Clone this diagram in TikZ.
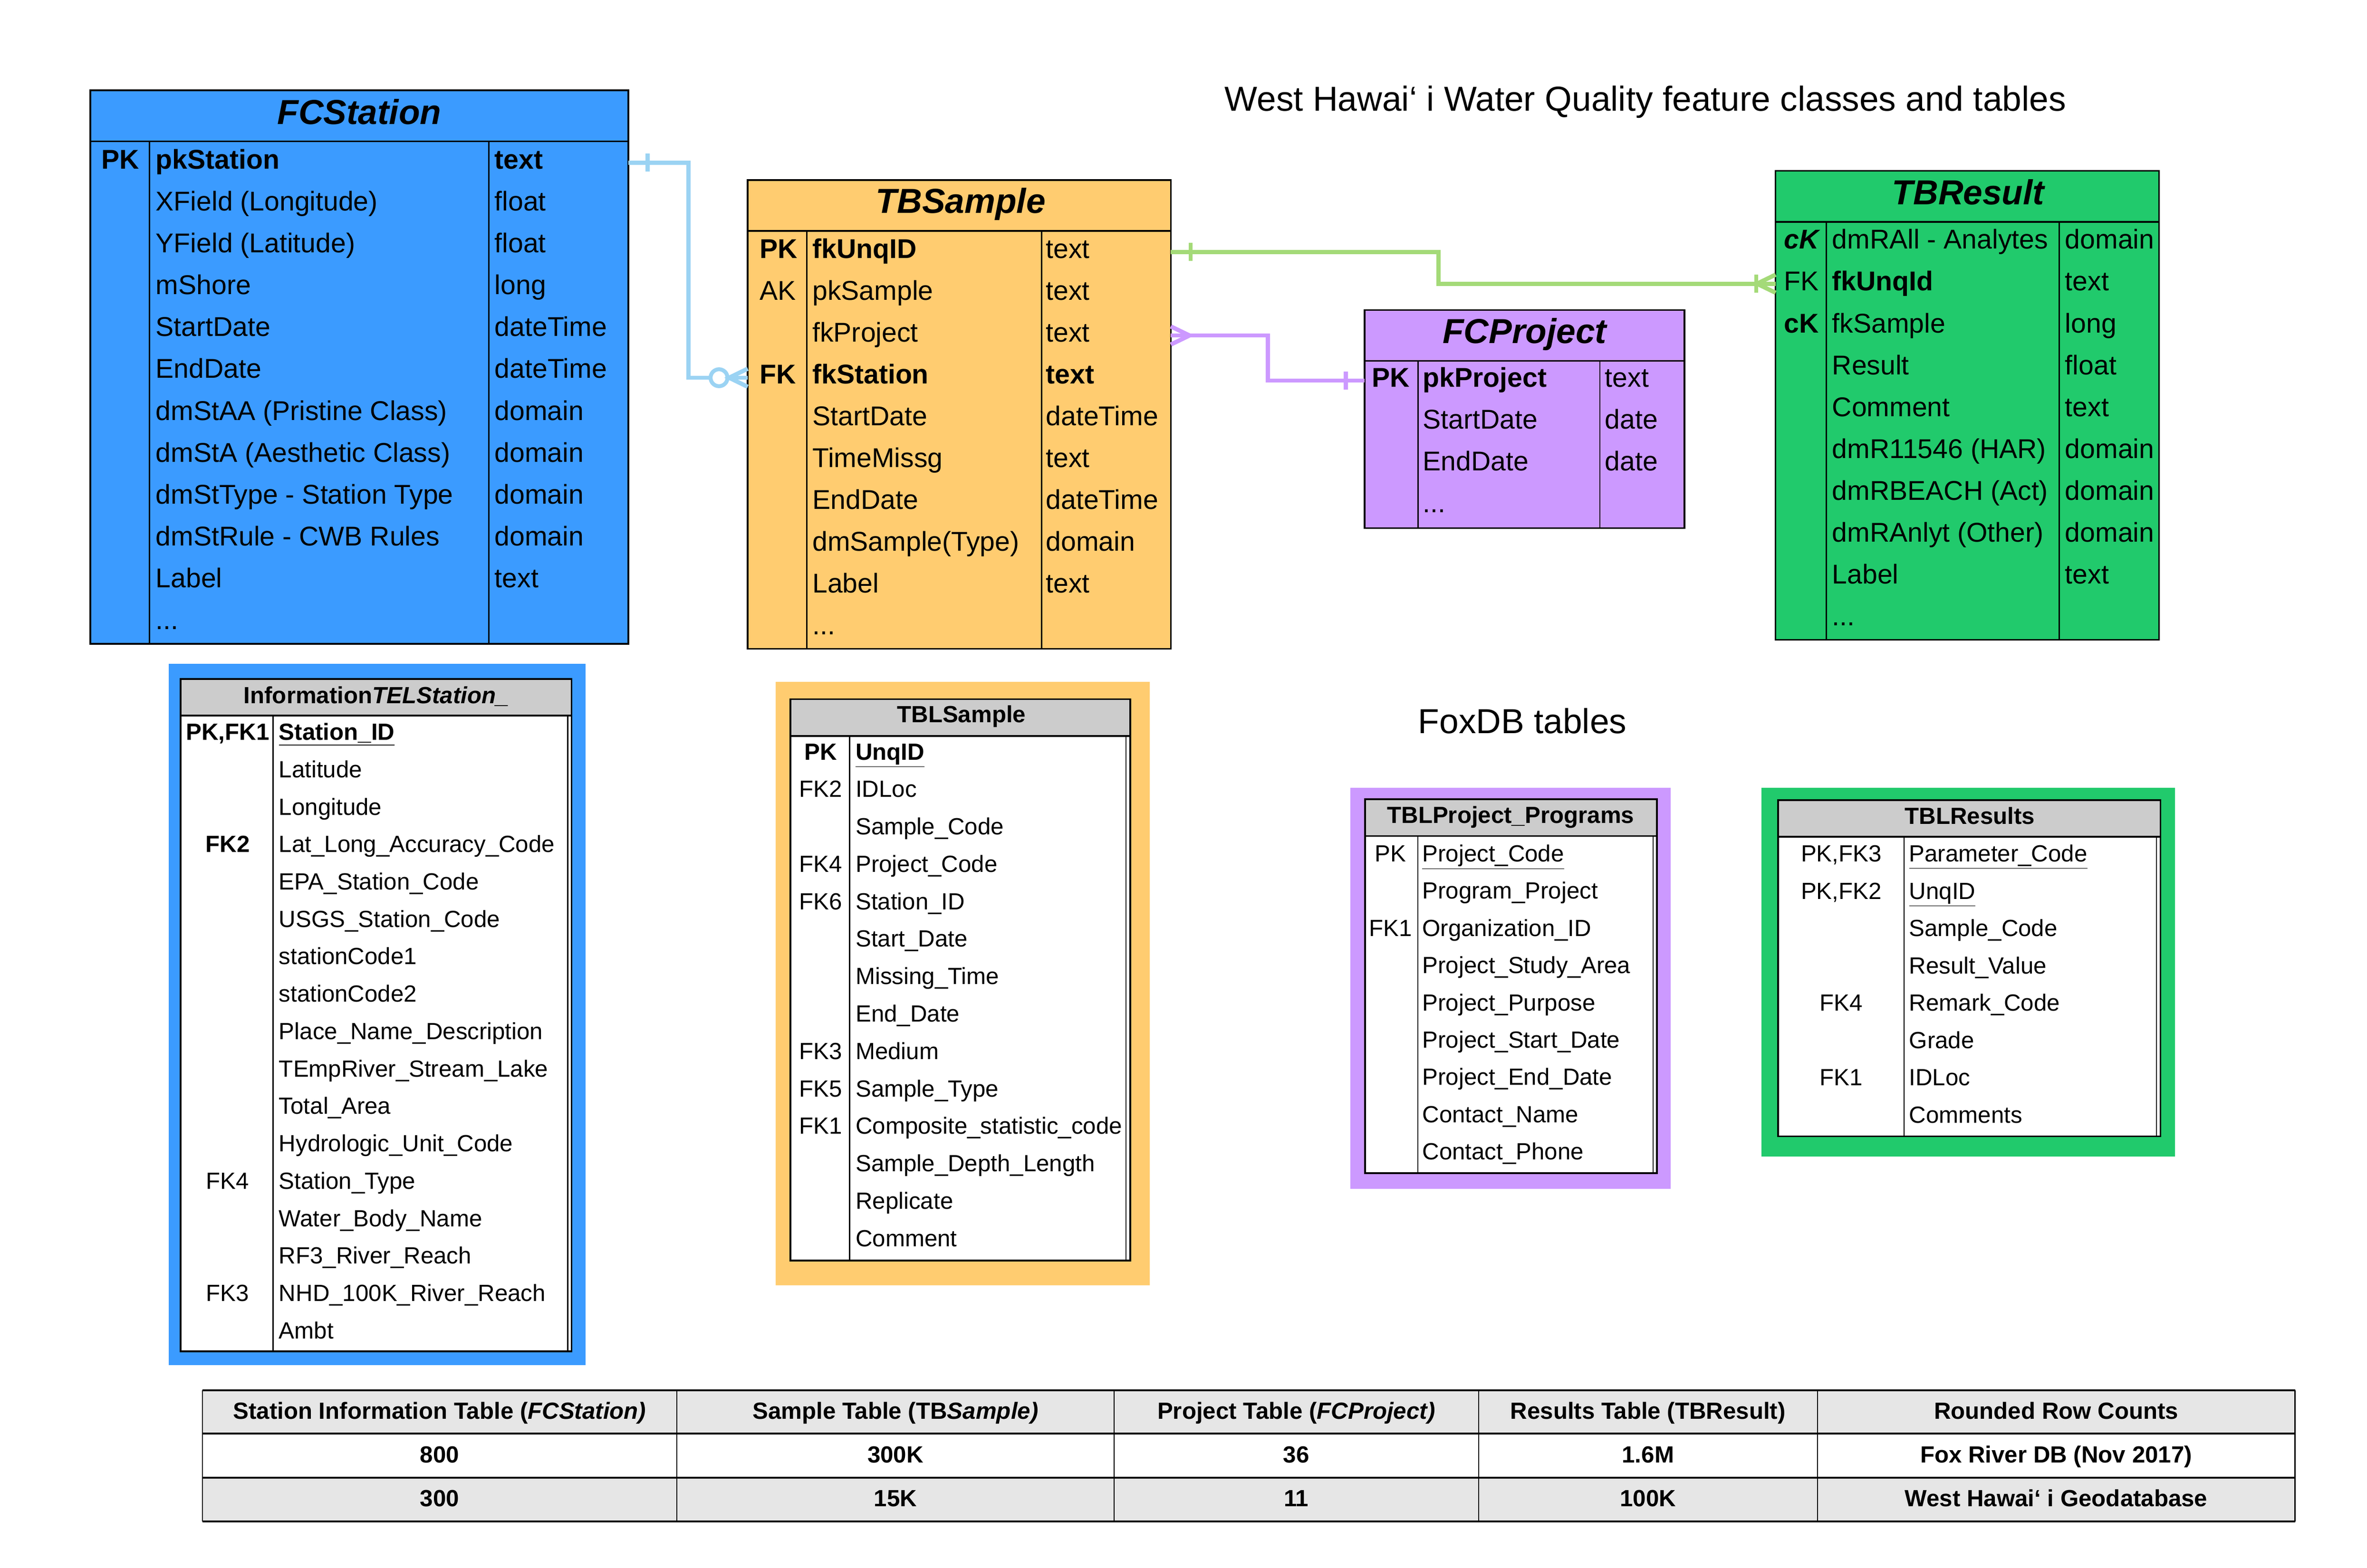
\documentclass[tikz,border=0pt]{standalone}
\usepackage{fontspec}
\setmainfont{Liberation Sans}
\definecolor{cBlue}{RGB}{59,155,255}
\definecolor{cOrange}{RGB}{255,204,112}
\definecolor{cPurple}{RGB}{204,153,255}
\definecolor{cGreen}{RGB}{33,202,108}
\definecolor{lnBlue}{RGB}{155,211,243}
\definecolor{lnGreen}{RGB}{164,218,120}
\definecolor{lnPurple}{RGB}{204,153,255}
\definecolor{hdGray}{RGB}{204,204,204}
\definecolor{tbGray}{RGB}{230,230,230}
\begin{document}
\begin{tikzpicture}[x=1pt,y=-1pt,
  ent/.style={draw=black, line width=1.1pt, anchor=north west, inner sep=0pt, outer sep=0pt},
  frame/.style={anchor=north west, inner sep=0pt, outer sep=0pt},
  tl/.style={line width=1.1pt},
  dl/.style={line width=0.9pt},
  ltl/.style={line width=1.2pt},
  thin/.style={line width=0.7pt},
  tx/.style={anchor=base west, inner sep=0pt, font=\fontsize{18}{20}\selectfont},
  ttl/.style={anchor=base, inner sep=0pt, font=\fontsize{23}{26}\selectfont\bfseries\itshape},
  lt/.style={anchor=base west, inner sep=0pt, font=\fontsize{15.5}{18}\selectfont},
  lk/.style={anchor=base, inner sep=0pt, font=\fontsize{15.5}{18}\selectfont},
  lttl/.style={anchor=base, inner sep=0pt, font=\fontsize{15.5}{18}\selectfont\bfseries},
  bt/.style={anchor=base, inner sep=0pt, font=\fontsize{15.5}{18}\selectfont\bfseries},
  big/.style={anchor=base, inner sep=0pt, font=\fontsize{23}{26}\selectfont},
  con/.style={line width=2.8pt},
]
\useasboundingbox (0,0) rectangle (1568,1039);

% ---------------- FCStation ----------------
\node[ent, fill=cBlue, minimum width=356.5pt, minimum height=366.9pt] (fcstation) at (59.8,59.8) {};
\draw[tl] (59.8,93.7) -- (416.3,93.7);
\draw[dl] (99,93.7) -- (99,426.7);
\draw[dl] (323.7,93.7) -- (323.7,426.7);
\node[ttl] (fcs-title) at (238,82.2) {FCStation};
\foreach \ky/\nm/\ty [count=\ri from 0] in {
  \textbf{PK}/\textbf{pkStation}/\textbf{text},
  /XField (Longitude)/float,
  /YField (Latitude)/float,
  /mShore/long,
  /StartDate/dateTime,
  /EndDate/dateTime,
  /dmStAA (Pristine Class)/domain,
  /dmStA (Aesthetic Class)/domain,
  /dmStType - Station Type/domain,
  /dmStRule - CWB Rules/domain,
  /Label/text}{
  \node[tx] (fcs-k\ri) at (66.9,{105.5+\ri*27.74+6.4}) {\ky};
  \node[tx] (fcs-n\ri) at (103,{105.5+\ri*27.74+6.4}) {\nm};
  \node[tx] (fcs-t\ri) at (327.5,{105.5+\ri*27.74+6.4}) {\ty};
}
\node[tx] (fcs-more) at (103,{105.5+11*27.74+6.4}) {...};

% ---------------- TBSample ----------------
\node[ent, fill=cOrange, minimum width=280.3pt, minimum height=310.7pt] (tbsample) at (495.3,119.3) {};
\draw[tl] (495.3,153) -- (775.6,153);
\draw[dl] (534.6,153) -- (534.6,430);
\draw[dl] (690,153) -- (690,430);
\node[ttl] (tbs-title) at (636.4,141.2) {TBSample};
\foreach \ky/\nm/\ty [count=\ri from 0] in {
  \textbf{PK}/\textbf{fkUnqID}/text,
  AK/pkSample/text,
  /fkProject/text,
  \textbf{FK}/\textbf{fkStation}/\textbf{text},
  /StartDate/dateTime,
  /TimeMissg/text,
  /EndDate/dateTime,
  /dmSample(Type)/domain,
  /Label/text}{
  \node[tx] (tbs-k\ri) at (503,{164.7+\ri*27.7+6.4}) {\ky};
  \node[tx] (tbs-n\ri) at (538,{164.7+\ri*27.7+6.4}) {\nm};
  \node[tx] (tbs-t\ri) at (692.7,{164.7+\ri*27.7+6.4}) {\ty};
}
\node[tx] (tbs-more) at (538,{164.7+9*27.7+6.4}) {...};

% ---------------- FCProject ----------------
\node[ent, fill=cPurple, minimum width=211.9pt, minimum height=144.5pt] (fcproject) at (904,205.5) {};
\draw[tl] (904,239.1) -- (1115.9,239.1);
\draw[dl] (939.5,239.1) -- (939.5,350);
\draw[dl] (1059.8,239.1) -- (1059.8,350);
\node[ttl] (fcp-title) at (1010,227.5) {FCProject};
\foreach \ky/\nm/\ty [count=\ri from 0] in {
  \textbf{PK}/\textbf{pkProject}/text,
  /StartDate/date,
  /EndDate/date}{
  \node[tx] (fcp-k\ri) at (908.7,{250.2+\ri*27.7+6.4}) {\ky};
  \node[tx] (fcp-n\ri) at (942.4,{250.2+\ri*27.7+6.4}) {\nm};
  \node[tx] (fcp-t\ri) at (1063,{250.2+\ri*27.7+6.4}) {\ty};
}
\node[tx] (fcp-more) at (942.4,{250.2+3*27.7+6.4}) {...};

% ---------------- TBResult ----------------
\node[ent, fill=cGreen, minimum width=254.1pt, minimum height=310.8pt] (tbresult) at (1176.2,113.2) {};
\draw[tl] (1176.2,147) -- (1430.3,147);
\draw[dl] (1209.8,147) -- (1209.8,424);
\draw[dl] (1364.2,147) -- (1364.2,424);
\node[ttl] (tbr-title) at (1303.8,135.7) {TBResult};
\foreach \ky/\nm/\ty [count=\ri from 0] in {
  \textbf{\textit{cK}}/dmRAll - Analytes/domain,
  FK/\textbf{fkUnqId}/text,
  \textbf{cK}/fkSample/long,
  /Result/float,
  /Comment/text,
  /dmR11546 (HAR)/domain,
  /dmRBEACH (Act)/domain,
  /dmRAnlyt (Other)/domain,
  /Label/text}{
  \node[tx] (tbr-k\ri) at (1181.6,{158.5+\ri*27.75+6.4}) {\ky};
  \node[tx] (tbr-n\ri) at (1213.5,{158.5+\ri*27.75+6.4}) {\nm};
  \node[tx] (tbr-t\ri) at (1367.8,{158.5+\ri*27.75+6.4}) {\ty};
}
\node[tx] (tbr-more) at (1213.5,{158.5+9*27.75+6.4}) {...};

% ---------------- connectors ----------------
% FCStation -> TBSample (one to zero-or-many)
\coordinate (bS) at ([yshift=-48pt]fcstation.north east);
\coordinate (bE) at ([yshift=-131pt]tbsample.north west);
\draw[con, lnBlue] (bS) -- ++(39.7,0) |- (bE);
\draw[con, lnBlue] ([xshift=12.7pt,yshift=6pt]bS) -- ([xshift=12.7pt,yshift=-6pt]bS);
\draw[lnBlue, line width=2.6pt, fill=white] ([xshift=-19pt]bE) circle[radius=5.6pt];
\draw[con, lnBlue] ([yshift=6pt]bE) -- ([xshift=-12.3pt]bE) -- ([yshift=-6pt]bE);
% TBSample -> TBResult (one to one-or-many)
\coordinate (gS) at ([yshift=-47.7pt]tbsample.north east);
\coordinate (gE) at ([yshift=-74.8pt]tbresult.north west);
\draw[con, lnGreen] (gS) -- ++(177.2,0) |- (gE);
\draw[con, lnGreen] ([xshift=13.1pt,yshift=6pt]gS) -- ([xshift=13.1pt,yshift=-6pt]gS);
\draw[con, lnGreen] ([xshift=-12.8pt,yshift=6pt]gE) -- ([xshift=-12.8pt,yshift=-6pt]gE);
\draw[con, lnGreen] ([yshift=6pt]gE) -- ([xshift=-12.3pt]gE) -- ([yshift=-6pt]gE);
% TBSample -> FCProject (many to one)
\coordinate (pS) at ([yshift=-103pt]tbsample.north east);
\coordinate (pE) at ([yshift=-46.7pt]fcproject.north west);
\draw[con, lnPurple] (pS) -- ++(64.4,0) |- (pE);
\draw[con, lnPurple] ([yshift=6pt]pS) -- ([xshift=12.4pt]pS) -- ([yshift=-6pt]pS);
\draw[con, lnPurple] ([xshift=-12.6pt,yshift=6pt]pE) -- ([xshift=-12.6pt,yshift=-6pt]pE);

% ---------------- titles ----------------
\node[big] (title) at (1090,73.5) {West Hawai‘ i Water Quality feature classes and tables};
\node[big] (foxdb) at (1008.5,486) {FoxDB tables};

% ---------------- InformationTELStation ----------------
\node[frame, fill=cBlue, minimum width=276.2pt, minimum height=464.5pt] (infoframe) at (111.7,440) {};
\node[frame, fill=white, minimum width=259pt, minimum height=445.6pt] (infotel) at (119.6,449.8) {};
\fill[hdGray] (119.6,449.8) rectangle (378.6,474.2);
\draw[ltl] (119.6,449.8) rectangle (378.6,895.4);
\draw[ltl] (119.6,474.2) -- (378.6,474.2);
\draw[dl] (181,474.2) -- (181,895.4);
\draw[thin] (376.1,474.2) -- (376.1,895.4);
\node[lttl] (it-title) at (249.3,466) {Information\textit{TELStation\_}};
\foreach \ky/\nm [count=\ri from 0] in {
  \textbf{PK,FK1}/\textbf{\underline{Station\_ID}},
  /Latitude, /Longitude,
  \textbf{FK2}/Lat\_Long\_Accuracy\_Code,
  /EPA\_Station\_Code, /USGS\_Station\_Code, /stationCode1, /stationCode2,
  /Place\_Name\_Description, /TEmpRiver\_Stream\_Lake, /Total\_Area,
  /Hydrologic\_Unit\_Code, FK4/Station\_Type, /Water\_Body\_Name,
  /RF3\_River\_Reach, FK3/NHD\_100K\_River\_Reach, /Ambt}{
  \node[lk] (it-k\ri) at (150.8,{484.9+\ri*24.79+5.5}) {\ky};
  \node[lt] (it-n\ri) at (184.6,{484.9+\ri*24.79+5.5}) {\nm};
}

% ---------------- TBLSample ----------------
\node[frame, fill=cOrange, minimum width=248pt, minimum height=399.9pt] (tsframe) at (513.7,451.8) {};
\node[frame, fill=white, minimum width=225.1pt, minimum height=372pt] (tblsample) at (523.7,463.3) {};
\fill[hdGray] (523.7,463.3) rectangle (748.8,487.6);
\draw[ltl] (523.7,463.3) rectangle (748.8,835.3);
\draw[ltl] (523.7,487.6) -- (748.8,487.6);
\draw[dl] (562.8,487.6) -- (562.8,835.3);
\draw[thin] (746,487.6) -- (746,835.3);
\node[lttl] (ts-title) at (636.9,478.7) {TBLSample};
\foreach \ky/\nm [count=\ri from 0] in {
  \textbf{PK}/\textbf{\underline{UnqID}},
  FK2/IDLoc, /Sample\_Code, FK4/Project\_Code, FK6/Station\_ID,
  /Start\_Date, /Missing\_Time, /End\_Date, FK3/Medium, FK5/Sample\_Type,
  FK1/Composite\_statistic\_code, /Sample\_Depth\_Length, /Replicate, /Comment}{
  \node[lk] (ts-k\ri) at (543.6,{498+\ri*24.8+5.5}) {\ky};
  \node[lt] (ts-n\ri) at (566.6,{498+\ri*24.8+5.5}) {\nm};
}

% ---------------- TBLProject_Programs ----------------
\node[frame, fill=cPurple, minimum width=212.2pt, minimum height=265.8pt] (tpframe) at (894.4,522.1) {};
\node[frame, fill=white, minimum width=193.3pt, minimum height=247.8pt] (tblproject) at (904.2,529.5) {};
\fill[hdGray] (904.2,529.5) rectangle (1097.5,554);
\draw[ltl] (904.2,529.5) rectangle (1097.5,777.3);
\draw[ltl] (904.2,554) -- (1097.5,554);
\draw[dl] (939.2,554) -- (939.2,777.3);
\draw[thin] (1095,554) -- (1095,777.3);
\node[lttl] (tp-title) at (1000.7,545.6) {TBLProject\_Programs};
\foreach \ky/\nm [count=\ri from 0] in {
  PK/\underline{Project\_Code}, /Program\_Project, FK1/Organization\_ID,
  /Project\_Study\_Area, /Project\_Purpose, /Project\_Start\_Date,
  /Project\_End\_Date, /Contact\_Name, /Contact\_Phone}{
  \node[lk] (tp-k\ri) at (921.2,{565.5+\ri*24.68+5.5}) {\ky};
  \node[lt] (tp-n\ri) at (942,{565.5+\ri*24.68+5.5}) {\nm};
}

% ---------------- TBLResults ----------------
\node[frame, fill=cGreen, minimum width=274pt, minimum height=244.3pt] (trframe) at (1166.9,522.1) {};
\node[frame, fill=white, minimum width=253.4pt, minimum height=222.8pt] (tblresults) at (1177.8,530.2) {};
\fill[hdGray] (1177.8,530.2) rectangle (1431.2,554.4);
\draw[ltl] (1177.8,530.2) rectangle (1431.2,753);
\draw[ltl] (1177.8,554.4) -- (1431.2,554.4);
\draw[dl] (1261.3,554.4) -- (1261.3,753);
\draw[thin] (1428.6,554.4) -- (1428.6,753);
\node[lttl] (tr-title) at (1304.9,546.1) {TBLResults};
\foreach \ky/\nm [count=\ri from 0] in {
  {PK,FK3}/\underline{Parameter\_Code}, {PK,FK2}/\underline{UnqID},
  /Sample\_Code, /Result\_Value, FK4/Remark\_Code, /Grade, FK1/IDLoc, /Comments}{
  \node[lk] (tr-k\ri) at (1219.7,{565.5+\ri*24.74+5.5}) {\ky};
  \node[lt] (tr-n\ri) at (1264.5,{565.5+\ri*24.74+5.5}) {\nm};
}

% ---------------- Row counts table ----------------
\node[frame, fill=white, minimum width=1386.2pt, minimum height=86.9pt] (counts) at (134.1,921.2) {};
\fill[tbGray] (134.1,921.2) rectangle (1520.3,950);
\fill[tbGray] (134.1,979.2) rectangle (1520.3,1008.1);
\foreach \xx in {134.1,448.4,738,979.5,1204,1520.3}{
  \draw[thin] (\xx,921.2) -- (\xx,1008.1);
}
\foreach \yy in {921.2,950,979.2,1008.1}{
  \draw[line width=1.4pt] (134.1,\yy) -- (1520.3,\yy);
}
\node[bt] (c-h1) at (291.2,940.3) {Station Information Table (\textit{FCStation)}};
\node[bt] (c-h2) at (593.2,940.3) {Sample Table (TB\textit{Sample)}};
\node[bt] (c-h3) at (858.7,940.3) {Project Table (\textit{FCProject)}};
\node[bt] (c-h4) at (1091.7,940.3) {Results Table (TBResult)};
\node[bt] (c-h5) at (1362.1,940.3) {Rounded Row Counts};
\node[bt] (c-a1) at (291.2,969.3) {800};
\node[bt] (c-a2) at (593.2,969.3) {300K};
\node[bt] (c-a3) at (858.7,969.3) {36};
\node[bt] (c-a4) at (1091.7,969.3) {1.6M};
\node[bt] (c-a5) at (1362.1,969.3) {Fox River DB (Nov 2017)};
\node[bt] (c-b1) at (291.2,998.4) {300};
\node[bt] (c-b2) at (593.2,998.4) {15K};
\node[bt] (c-b3) at (858.7,998.4) {11};
\node[bt] (c-b4) at (1091.7,998.4) {100K};
\node[bt] (c-b5) at (1362.1,998.4) {West Hawai‘ i Geodatabase};
\end{tikzpicture}
\end{document}
